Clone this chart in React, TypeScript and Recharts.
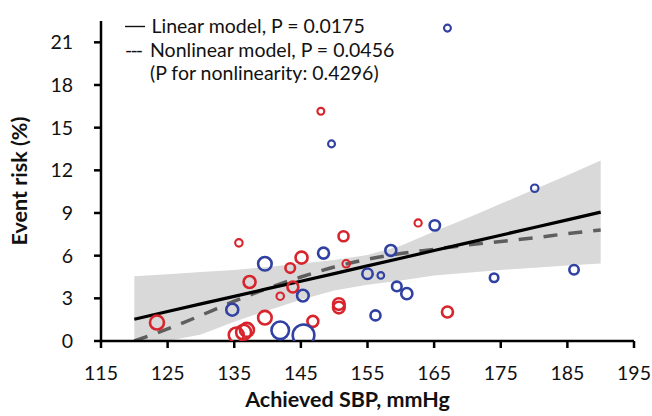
import {
  ComposedChart, Scatter, Line, Area, XAxis, YAxis, Customized,
} from 'recharts';

const X_TICKS = [115, 125, 135, 145, 155, 165, 175, 185, 195];
const Y_TICKS = [0, 3, 6, 9, 12, 15, 18, 21];

// fitted curves (SBP 120..190)
const CURVE_SBP = [120, 125, 130, 135, 140, 145, 150, 155, 160, 165, 170, 175, 180, 185, 190];
const LINEAR_RISK = [1.53, 2.07, 2.61, 3.14, 3.68, 4.2, 4.74, 5.28, 5.82, 6.36, 6.9, 7.44, 7.98, 8.52, 9.06];
const NONLINEAR_RISK = [0.0, 0.85, 1.8, 2.8, 3.7, 4.5, 5.2, 5.75, 6.15, 6.45, 6.75, 7.0, 7.25, 7.55, 7.8];
const CI_LOWER = [0.0, 0.0, 0.45, 1.35, 2.15, 2.9, 3.55, 3.95, 4.25, 4.6, 4.8, 5.0, 5.15, 5.3, 5.45];
const CI_UPPER = [4.55, 4.7, 4.85, 5.0, 5.2, 5.45, 5.7, 6.05, 6.7, 7.7, 8.65, 9.65, 10.65, 11.65, 12.7];

// study arms (red)
const RED_SBP = [123.4, 135.7, 137.3, 135.3, 136.4, 136.9, 139.6, 146.8, 143.4, 145.1, 141.9, 143.8, 151.4, 151.8, 150.7, 150.7, 148.0, 162.6, 167.0];
const RED_RISK = [1.3, 6.9, 4.15, 0.42, 0.62, 0.78, 1.64, 1.38, 5.13, 5.86, 3.15, 3.8, 7.37, 5.43, 2.6, 2.35, 16.15, 8.3, 2.04];
const RED_WEIGHT = [49, 14, 36, 56, 56, 49, 46, 30, 23, 36, 14, 30, 25, 14, 34, 34, 12, 13, 30];

// study arms (blue)
const BLUE_SBP = [134.7, 139.6, 141.9, 145.4, 145.3, 148.4, 155.0, 157.0, 158.5, 159.4, 160.9, 156.2, 165.1, 174.0, 180.1, 186.0, 149.6, 167.0];
const BLUE_RISK = [2.2, 5.43, 0.75, 0.4, 3.19, 6.18, 4.73, 4.61, 6.37, 3.84, 3.33, 1.8, 8.13, 4.45, 10.74, 5.01, 13.86, 22.0];
const BLUE_WEIGHT = [36, 46, 77, 117, 34, 30, 27, 11, 30, 23, 31, 25, 27, 18, 14, 22, 12, 12];

const RED = '#d8242c';
const BLUE = '#3141a2';
const FONT = 'Lato, "Open Sans", sans-serif';

const curveData = CURVE_SBP.map((x, i) => ({
  x, lin: LINEAR_RISK[i], non: NONLINEAR_RISK[i], band: [CI_LOWER[i], CI_UPPER[i]],
}));
const redData = RED_SBP.map((x, i) => ({ x, y: RED_RISK[i], w: RED_WEIGHT[i] }));
const blueData = BLUE_SBP.map((x, i) => ({ x, y: BLUE_RISK[i], w: BLUE_WEIGHT[i] }));

// bubble area proportional to study weight
const ring = (color: string) => (props: any) => {
  const r = Math.sqrt(props.payload?.w ?? 16);
  return <circle cx={props.cx} cy={props.cy} r={r} fill="none" stroke={color} strokeWidth={r < 4 ? 2.1 : 2.6} />;
};

const tickStyle = { fontFamily: FONT, fontSize: 19.5, fill: '#111' };

function LegendText() {
  return (
    <g style={{ fontFamily: FONT, fontSize: 19.5, fill: '#111' }}>
      <line x1={125} x2={145} y1={26.5} y2={26.5} stroke="#111" strokeWidth={1.4} />
      <text x={151.5} y={33}>Linear model, P = 0.0175</text>
      <text x={125} y={56.5} textLength={18} lengthAdjust="spacing">---</text>
      <text x={150} y={56.5}>Nonlinear model, P = 0.0456</text>
      <text x={150} y={80}>(P for nonlinearity: 0.4296)</text>
    </g>
  );
}

export default function App() {
  return (
    <div style={{ position: 'absolute', left: 0, top: 0, background: '#fff' }}>
      <ComposedChart width={652} height={416} margin={{ top: 21, right: 18, bottom: 0, left: 0 }}>
        <XAxis
          type="number" dataKey="x" domain={[115, 195]} ticks={X_TICKS} interval={0}
          allowDataOverflow tickSize={7} tickMargin={18} height={75}
          axisLine={{ stroke: '#000', strokeWidth: 2.5 }} tickLine={{ stroke: '#000', strokeWidth: 2.5 }}
          tick={tickStyle}
          label={{
            content: ({ viewBox }: any) => (
              <text x={viewBox.x + viewBox.width / 2 - 20} y={407} textAnchor="middle"
                style={{ fontFamily: FONT, fontSize: 21.5, fontWeight: 700, fill: '#111' }}>
                Achieved SBP, mmHg
              </text>
            ),
          }}
        />
        <YAxis
          type="number" dataKey="y" domain={[0, 22.5]} ticks={Y_TICKS} interval={0}
          allowDataOverflow tickSize={7} tickMargin={21} width={101}
          axisLine={{ stroke: '#000', strokeWidth: 2.5 }} tickLine={{ stroke: '#000', strokeWidth: 2.5 }}
          tick={tickStyle}
          label={{
            content: ({ viewBox }: any) => {
              const cy = viewBox.y + viewBox.height / 2;
              return (
                <text x={27} y={cy} textAnchor="middle" transform={`rotate(-90, 27, ${cy})`}
                  style={{ fontFamily: FONT, fontSize: 21.5, fontWeight: 700, fill: '#111' }}>
                  Event risk (%)
                </text>
              );
            },
          }}
        />
        <Area data={curveData} dataKey="band" type="linear" stroke="none" fill="#d9d9d9" fillOpacity={1} isAnimationActive={false} />
        <Scatter data={redData} shape={ring(RED)} isAnimationActive={false} />
        <Scatter data={blueData} shape={ring(BLUE)} isAnimationActive={false} />
        <Line data={curveData} dataKey="non" type="monotone" stroke="#5e5e5e" strokeWidth={3.5} strokeDasharray="14 11" dot={false} isAnimationActive={false} />
        <Line data={curveData} dataKey="lin" type="linear" stroke="#000" strokeWidth={3.2} dot={false} isAnimationActive={false} />
        <Customized component={LegendText} />
      </ComposedChart>
    </div>
  );
}
